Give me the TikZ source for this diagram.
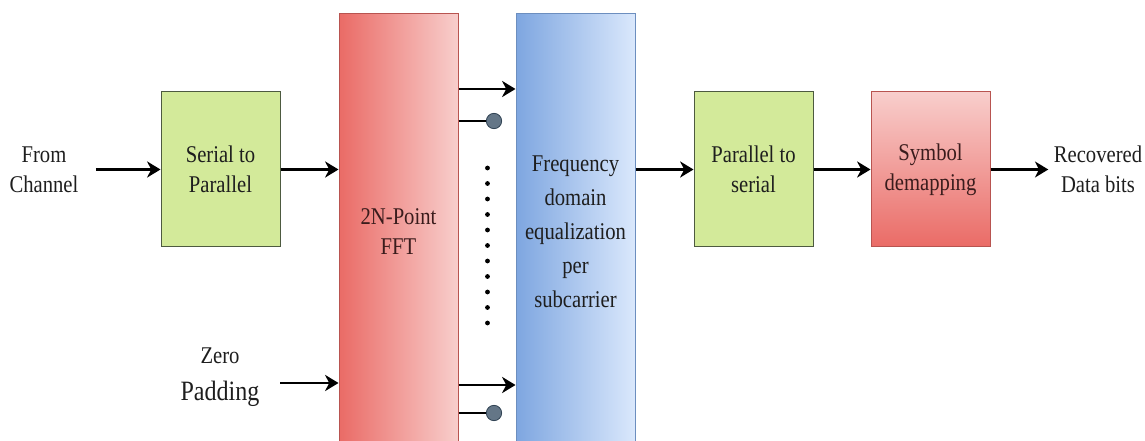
\documentclass[tikz,border=0pt]{standalone}
\usepackage{fontspec}
\setmainfont{Liberation Serif}[FakeStretch=0.86]
\usetikzlibrary{arrows.meta,positioning}

\definecolor{boxgreen}{HTML}{D3EA9A}
\definecolor{boxgreenline}{HTML}{4D5A40}
\definecolor{redlight}{HTML}{F8CECC}
\definecolor{reddark}{HTML}{EA6B66}
\definecolor{redline}{HTML}{B85450}
\definecolor{bluelight}{HTML}{DAE8FC}
\definecolor{bluedark}{HTML}{7EA6E0}
\definecolor{blueline}{HTML}{6C8EBF}
\definecolor{dotfill}{HTML}{647687}
\definecolor{dotline}{HTML}{314354}
\definecolor{txt}{HTML}{1E1E1E}
\definecolor{redtxt}{HTML}{3A1C1C}

\begin{document}
\begin{tikzpicture}[
  x=0.75pt,y=-0.75pt,
  font=\fontsize{18}{22.5}\selectfont,
  text=txt,
  block/.style={draw,line width=0.75pt,minimum width=89.25pt,minimum height=116.25pt,align=center,inner sep=2pt},
  greenblock/.style={block,fill=boxgreen,draw=boxgreenline},
  tallblock/.style={block,minimum height=327pt},
  io/.style={align=center,inner sep=4pt},
  msg/.style={-{Stealth[length=10pt,width=12pt,inset=3pt]},line width=1.7pt},
  dot/.style={circle,fill=dotfill,draw=dotline,line width=0.6pt,minimum size=11.5pt,inner sep=0pt},
]
  \clip (0,0) rectangle (1145,441);

  \node[greenblock] (s2p) at (220.5,169.5) {Serial to\\Parallel};
  \node[tallblock,left color=reddark,right color=redlight,draw=redline,text=redtxt] (fft) at (398.5,232) {2N-Point\\FFT};
  \node[tallblock,left color=bluedark,right color=bluelight,draw=blueline,
        font=\fontsize{18}{25.5}\selectfont] (fde) at (575.5,232)
        {Frequency\\domain\\equalization\\per\\subcarrier};
  \node[greenblock] (p2s) at (753.5,169.5) {Parallel to\\serial};
  \node[block,top color=redlight,bottom color=reddark,draw=redline,text=redtxt] (demap) at (930.5,169.5) {Symbol\\demapping};

  \node[io] (src) at (44,169.5) {From\\Channel};
  \node[io] (out) at (1098,169.5) {Recovered\\Data bits};
  \node[io] (pad) at (220,377) {Zero\\[5pt]{\fontsize{21}{24}\selectfont Padding}};
  \coordinate (zp) at (280,383);

  \draw[msg,shorten <=9pt] (src.east) -- (s2p.west);
  \draw[msg] (s2p.east) -- (s2p.east -| fft.west);
  \draw[msg] (zp) -- (zp -| fft.west);
  \draw[msg] (fde.east |- p2s.west) -- (p2s.west);
  \draw[msg] (p2s) -- (demap);
  \draw[msg] (demap.east) -- (out.west);

  % subcarrier outputs of the FFT
  \foreach \y in {89,385}
    \draw[msg] (fft.east |- 0,\y) -- (fde.west |- 0,\y);
  \foreach \y in {121,413} {
    \node[dot] (c\y) at (494,\y) {};
    \draw[line width=1.7pt] (fft.east |- c\y) -- (c\y.west);
  }
  \foreach \i in {0,...,10}
    \fill (487.5,168+15.5*\i) circle (1.8pt);
\end{tikzpicture}
\end{document}
